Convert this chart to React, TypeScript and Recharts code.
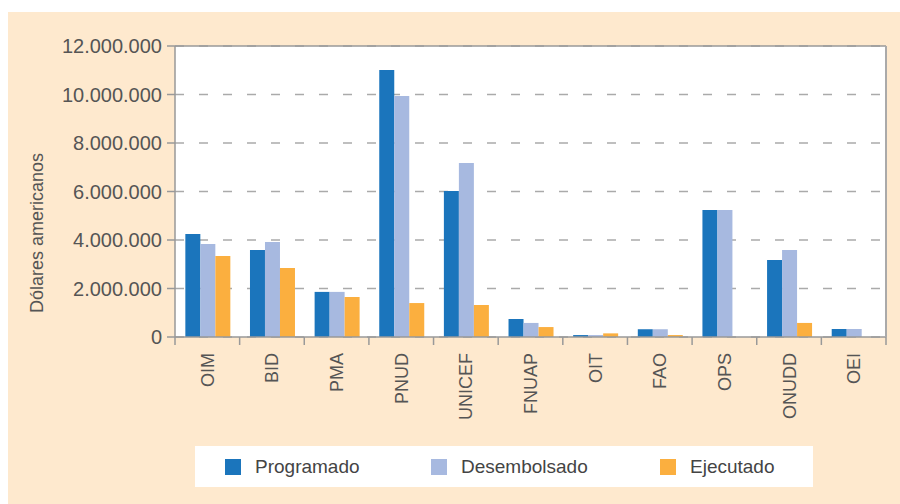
import React from 'react';
import { BarChart, Bar, XAxis, YAxis, CartesianGrid, ReferenceLine } from 'recharts';

const categories = ['OIM', 'BID', 'PMA', 'PNUD', 'UNICEF', 'FNUAP', 'OIT', 'FAO', 'OPS', 'ONUDD', 'OEI'];
const programado = [4250000, 3590000, 1860000, 11010000, 6020000, 740000, 80000, 320000, 5240000, 3180000, 330000];
const desembolsado = [3840000, 3920000, 1860000, 9940000, 7180000, 580000, 80000, 320000, 5240000, 3590000, 330000];
const ejecutado = [3340000, 2850000, 1650000, 1400000, 1320000, 410000, 150000, 80000, 0, 580000, 0];
const yTicks = [0, 2000000, 4000000, 6000000, 8000000, 10000000, 12000000];
const seriesNames = ['Programado', 'Desembolsado', 'Ejecutado'];
const seriesKeys = ['programado', 'desembolsado', 'ejecutado'];
const seriesColors = ['#1B75BC', '#A7B9E0', '#FBAF3F'];

const data = categories.map((name, i) => ({
  name,
  programado: programado[i],
  desembolsado: desembolsado[i],
  ejecutado: ejecutado[i],
}));

const fmt = (v: number) => String(v).replace(/\B(?=(\d{3})+(?!\d))/g, '.');
const FONT = '"Liberation Sans", Arial, sans-serif';
const TEXT = '#555';

const CatTick = (props: any) => {
  const { x, y, payload, index } = props;
  const off = payload.offset || 0;
  const last = index === categories.length - 1;
  return (
    <g>
      <line x1={x - off} x2={x - off} y1={y} y2={y + 8} stroke="#999" strokeWidth={1.5} />
      {last && <line x1={x + off} x2={x + off} y1={y} y2={y + 8} stroke="#999" strokeWidth={1.5} />}
      <g transform={`translate(${x},${y + 16}) rotate(-90)`}>
        <text textAnchor="end" dy="0.36em" fill={TEXT} fontSize={18} fontFamily={FONT}>
          {payload.value}
        </text>
      </g>
    </g>
  );
};

const YLabel = () => (
  <text
    x={29}
    y={221}
    transform="rotate(-90 29 221)"
    textAnchor="middle"
    dominantBaseline="central"
    fill={TEXT}
    fontSize={18}
    fontFamily={FONT}
  >
    Dólares americanos
  </text>
);

export default function App() {
  return (
    <div
      style={{
        position: 'absolute',
        left: 8,
        top: 12,
        width: 892,
        height: 492,
        background: '#FEE9CE',
        fontFamily: FONT,
      }}
    >
      <BarChart
        width={892}
        height={492}
        data={data}
        margin={{ top: 34, right: 0, bottom: 67, left: 0 }}
        barCategoryGap="16%"
        barGap={0}
      >
        <CartesianGrid vertical={false} stroke="#aaa" strokeWidth={1.5} strokeDasharray="9 15" fill="#fff" />
        <XAxis
          dataKey="name"
          height={100}
          axisLine={{ stroke: '#999', strokeWidth: 1.5 }}
          tickLine={false}
          tickSize={0}
          tickMargin={0}
          tick={<CatTick />}
          interval={0}
        />
        <YAxis
          width={167}
          domain={[0, 12000000]}
          ticks={yTicks}
          tickFormatter={fmt}
          tickSize={8}
          tickMargin={5}
          axisLine={{ stroke: '#999', strokeWidth: 1.5 }}
          tickLine={{ stroke: '#999', strokeWidth: 1.5 }}
          tick={{ fill: TEXT, fontSize: 20, fontFamily: FONT }}
          label={<YLabel />}
        />
        <YAxis
          yAxisId="r"
          orientation="right"
          width={14}
          tick={false}
          tickLine={false}
          axisLine={{ stroke: '#aaa', strokeWidth: 2 }}
        />
        <ReferenceLine y={12000000} stroke="#999" strokeWidth={1.5} />
        {seriesKeys.map((k, i) => (
          <Bar key={k} dataKey={k} name={seriesNames[i]} fill={seriesColors[i]} isAnimationActive={false} />
        ))}
      </BarChart>
      <div
        style={{
          position: 'absolute',
          left: 187,
          top: 434,
          width: 618,
          height: 41,
          background: '#fff',
        }}
      >
        {seriesNames.map((n, i) => (
          <div
            key={n}
            style={{
              position: 'absolute',
              left: [30, 236, 465][i],
              top: 0,
              height: 41,
              display: 'flex',
              alignItems: 'center',
            }}
          >
            <span style={{ display: 'inline-block', width: 16, height: 16, background: seriesColors[i], marginRight: 14 }} />
            <span style={{ fontSize: 19, color: '#444', fontFamily: FONT }}>{n}</span>
          </div>
        ))}
      </div>
    </div>
  );
}
